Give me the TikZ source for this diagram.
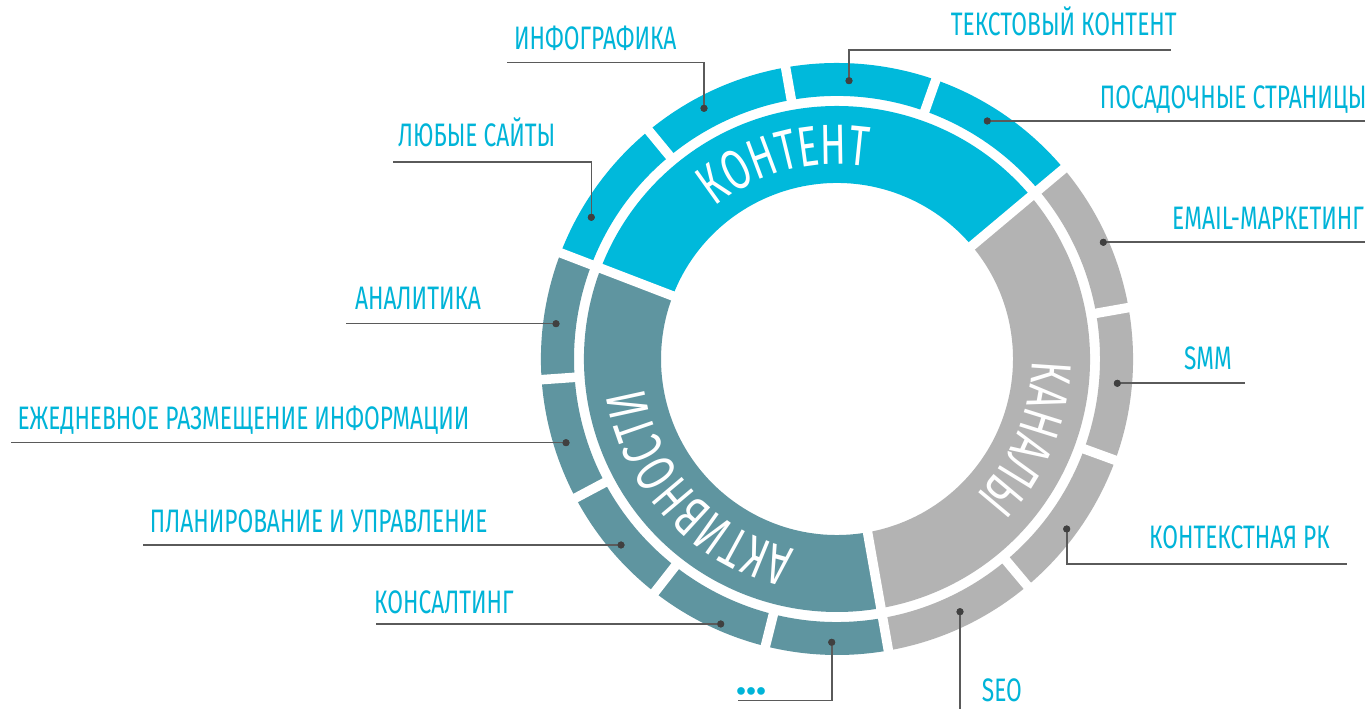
\documentclass[tikz,border=0pt]{standalone}
\usepackage{fontspec}
\usetikzlibrary{decorations.text}
\newfontfamily\labfont[FakeStretch=0.70]{Fira Sans}
\newfontfamily\bigfont[FakeStretch=0.68]{Fira Sans}
\newfontfamily\dotfont{Fira Sans Bold}
\definecolor{cyanc}{HTML}{00B9DB}
\definecolor{tealc}{HTML}{5F95A0}
\definecolor{grayc}{HTML}{B3B3B3}
\definecolor{linec}{HTML}{5A5A5A}
\definecolor{dotc}{HTML}{404040}
\definecolor{txtc}{HTML}{00B4D8}
\begin{document}
\begin{tikzpicture}[x=1pt,y=1pt,
  lab/.style={anchor=base west, inner sep=0pt, text=txtc, font=\labfont\fontsize{32.5}{34}\selectfont},
  leader/.style={draw=linec, line width=1.6pt},
  dotm/.style={circle, fill=dotc, inner sep=0pt, minimum size=7pt},
  gapline/.style={draw=white, line width=9.5pt},
  ringtext/.style={decorate, decoration={text along path, text align=center, text color=white}}]
\useasboundingbox (0,0) rectangle (1365,709);
\fill[white] (0,0) rectangle (1365,709);

\begin{scope}[shift={(837,350)}]
  % inner band
  \fill[cyanc] (40:253pt) arc[start angle=40, end angle=159, radius=253pt] -- (159:176pt) arc[start angle=159, end angle=40, radius=176pt] -- cycle;
  \fill[tealc] (159:253pt) arc[start angle=159, end angle=280, radius=253pt] -- (280:176pt) arc[start angle=280, end angle=159, radius=176pt] -- cycle;
  \fill[grayc] (280:253pt) arc[start angle=280, end angle=400, radius=253pt] -- (400:176pt) arc[start angle=400, end angle=280, radius=176pt] -- cycle;
  % outer ring
  \fill[cyanc] (40:296pt) arc[start angle=40, end angle=159, radius=296pt] -- (159:263pt) arc[start angle=159, end angle=40, radius=263pt] -- cycle;
  \fill[tealc] (159:296pt) arc[start angle=159, end angle=280, radius=296pt] -- (280:263pt) arc[start angle=280, end angle=159, radius=263pt] -- cycle;
  \fill[grayc] (280:296pt) arc[start angle=280, end angle=400, radius=296pt] -- (400:263pt) arc[start angle=400, end angle=280, radius=263pt] -- cycle;
  % gaps
  \foreach \a in {40,159,280} \draw[gapline] (\a:170pt) -- (\a:257pt);
  \foreach \a in {40,70.5,100,129.5,159,184,208,232,256,280,310,340,370} \draw[gapline] (\a:259pt) -- (\a:300pt);
  % ring titles
  \path[ringtext, decoration={text={|\bigfont\fontsize{56.6}{60}\selectfont|КОНТЕНТ}}] (155:195pt) arc[start angle=155, end angle=55, radius=195pt];
  \path[ringtext, decoration={text={|\bigfont\fontsize{56.6}{60}\selectfont|КАНАЛЫ}}] (37.5:195pt) arc[start angle=37.5, end angle=-82.5, radius=195pt];
  \path[ringtext, decoration={text={|\bigfont\fontsize{56.6}{60}\selectfont|АКТИВНОСТИ}}] (288:195pt) arc[start angle=288, end angle=158, radius=195pt];
\end{scope}

% leader dots
\node[dotm] (d1) at (704,600.7) {};
\node[dotm] (d2) at (849,628.3) {};
\node[dotm] (d3) at (987.3,588) {};
\node[dotm] (d4) at (591.3,491.7) {};
\node[dotm] (d5) at (1103.3,466.7) {};
\node[dotm] (d6) at (556,385.3) {};
\node[dotm] (d7) at (1117.3,325.7) {};
\node[dotm] (d8) at (566,266.3) {};
\node[dotm] (d9) at (621,164) {};
\node[dotm] (d10) at (1066.7,180) {};
\node[dotm] (d11) at (720.7,85) {};
\node[dotm] (d12) at (831.7,66.7) {};
\node[dotm] (d13) at (960,97.3) {};

% leader ends
\coordinate (e1) at (506.7,646.3);
\coordinate (e2) at (1170.7,659);
\coordinate (e3) at (1370,588);
\coordinate (e4) at (393.3,546.7);
\coordinate (e5) at (1370,466.7);
\coordinate (e6) at (346,385.3);
\coordinate (e7) at (1245,325.7);
\coordinate (e8) at (11,266.3);
\coordinate (e9) at (143.3,164);
\coordinate (e10) at (1347,145);
\coordinate (e11) at (375.7,85);
\coordinate (e12) at (738.3,8.3);
\coordinate (e13) at (960,-3);

\draw[leader] (d1.center) |- (e1);
\draw[leader] (d2.center) |- (e2);
\draw[leader] (d3.center) -- (e3);
\draw[leader] (d4.center) |- (e4);
\draw[leader] (d5.center) -- (e5);
\draw[leader] (d6.center) -- (e6);
\draw[leader] (d7.center) -- (e7);
\draw[leader] (d8.center) -- (e8);
\draw[leader] (d9.center) -- (e9);
\draw[leader] (d10.center) |- (e10);
\draw[leader] (d11.center) -- (e11);
\draw[leader] (d12.center) |- (e12);
\draw[leader] (d13.center) -- (e13);
\foreach \n in {1,...,13} \fill[dotc] (d\n) circle[radius=3.5pt];

% labels
\node[lab] (l1) at (514,659) {ИНФОГРАФИКА};
\node[lab] (l2) at (950.7,673.3) {ТЕКСТОВЫЙ КОНТЕНТ};
\node[lab] (l3) at (1099.7,600.7) {ПОСАДОЧНЫЕ СТРАНИЦЫ};
\node[lab] (l4) at (398,562.3) {ЛЮБЫЕ САЙТЫ};
\node[lab] (l5) at (1172,479.7) {EMAIL-МАРКЕТИНГ};
\node[lab] (l6) at (355,399.7) {АНАЛИТИКА};
\node[lab] (l7) at (1184,339) {SMM};
\node[lab] (l8) at (17.3,279.7) {ЕЖЕДНЕВНОЕ РАЗМЕЩЕНИЕ ИНФОРМАЦИИ};
\node[lab] (l9) at (149.7,176.7) {ПЛАНИРОВАНИЕ И УПРАВЛЕНИЕ};
\node[lab] (l10) at (1149,160) {КОНТЕКСТНАЯ РК};
\node[lab] (l11) at (374,95.7) {КОНСАЛТИНГ};
\node[lab, font=\dotfont\fontsize{42}{44}\selectfont] (l12) at (736,14) {...};
\node[lab] (l13) at (981.7,7.3) {SEO};
\end{tikzpicture}
\end{document}
